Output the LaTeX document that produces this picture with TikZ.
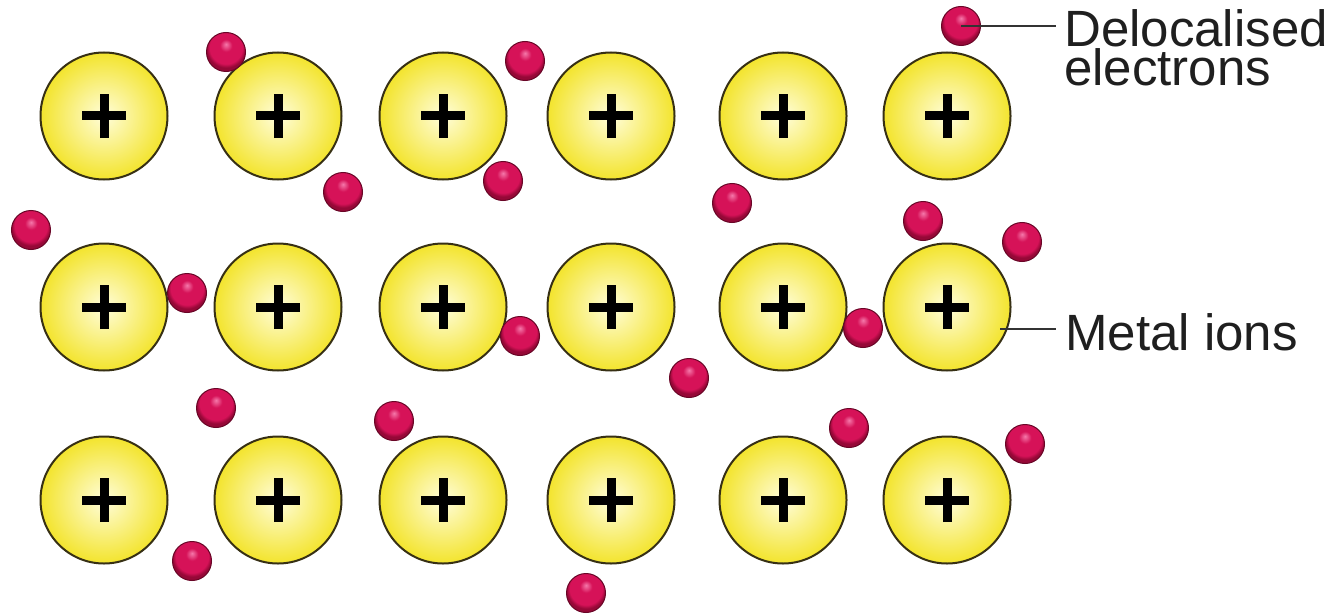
\documentclass[tikz,border=0pt]{standalone}
\usepackage{fontspec}
\setmainfont{Liberation Sans}
\definecolor{ionin}{RGB}{255,253,218}
\definecolor{ionout}{RGB}{243,228,45}
\definecolor{ionedge}{RGB}{55,48,20}
\definecolor{ehi}{RGB}{245,120,170}
\definecolor{elec}{RGB}{214,18,88}
\definecolor{erim}{RGB}{150,8,55}
\pgfdeclareradialshading{elecshade}{\pgfpoint{0bp}{10bp}}{color(0bp)=(ehi); color(8bp)=(elec); color(21bp)=(elec); color(25bp)=(erim); color(50bp)=(erim)}
\begin{document}
\lineskiplimit=-100pt\relax
\begin{tikzpicture}[x=1pt,y=-1pt,
  ion/.style={circle, minimum size=127pt, inner sep=0pt, draw=ionedge, line width=2pt, inner color=ionin, outer color=ionout},
  elec/.style={circle, minimum size=39pt, inner sep=0pt, draw=erim!70!black, line width=1pt, shading=elecshade},
  plusbar/.style={line width=9pt, black},
  lbl/.style={anchor=base west, font=\fontsize{51}{39}\selectfont, text=black!88, inner sep=0pt},
  leader/.style={line width=2pt, draw=black!80}]
\useasboundingbox[fill=white] (0,0) rectangle (1340,615);
\foreach \r/\y in {1/116,2/307,3/500}{
  \foreach \c/\x in {1/104,2/278,3/443,4/611,5/783,6/947}{
    \node[ion] (i\r\c) at (\x,\y) {};
    \draw[plusbar] ([xshift=-22pt]i\r\c.center) -- ([xshift=22pt]i\r\c.center);
    \draw[plusbar] ([yshift=-22pt]i\r\c.center) -- ([yshift=22pt]i\r\c.center);
  }
}
\foreach \n/\x/\y in {1/226/52, 2/525/61, 3/961/26, 4/343/192, 5/503/181, 6/732/203,
  7/31/230, 8/923/221, 9/1022/242, 10/187/293, 11/520/336, 12/863/328, 13/689/378,
  14/216/408, 15/394/421, 16/849/428, 17/1025/444, 18/192/561, 19/586/593}{
  \node[elec] (e\n) at (\x,\y) {};
}
\node[lbl, anchor=north west, align=left] (tdeloc) at (1064,9.5) {Delocalised\\electrons};
\node[lbl] (tmetal) at (1065,350) {Metal ions};
\coordinate (dl) at (1056,26);
\draw[leader] (e3.center) -- (dl);
\coordinate (mi0) at ([shift={(53,22)}]i26.center);
\coordinate (mi1) at (1056,329);
\draw[leader] (mi0) -- (mi1);
\end{tikzpicture}
\end{document}
